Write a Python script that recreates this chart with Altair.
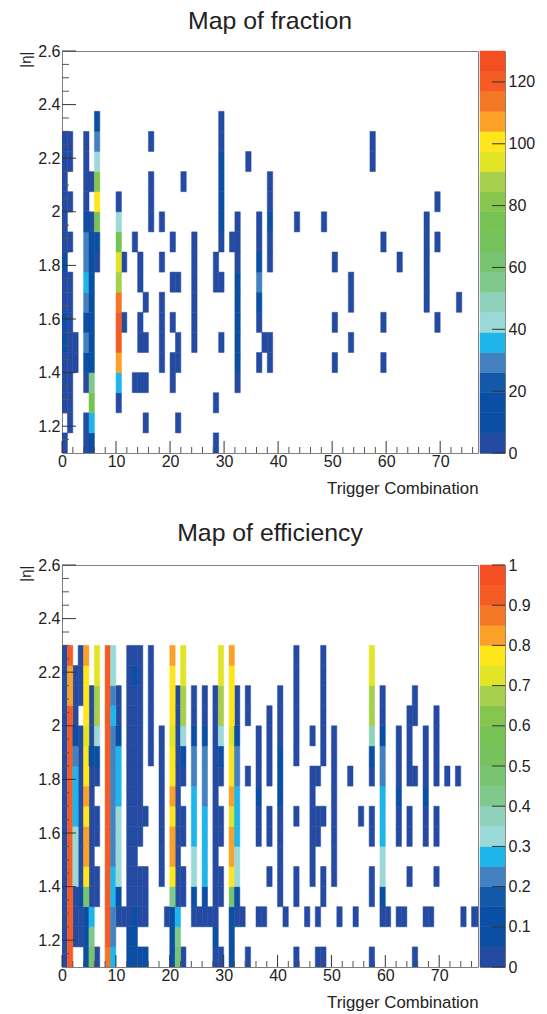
import altair as alt
import pandas as pd

FONT = "Liberation Sans"
PALETTE = ["#254AA2", "#0B4EA2", "#0A4FA3", "#1359A8", "#4481C0", "#1FB5EA", "#9BD8D8",
           "#8FD2BC", "#80C98C", "#78C470", "#76C35E", "#76C255", "#86C64E", "#A6CF4B",
           "#E2E426", "#FFE61A", "#FBA128", "#F47726", "#F55B24", "#F44F22"]
ETA_LOW = 1.1
ETA_STEP = 0.075

# Fraction: cells read at the lowest colour band, per eta row
FRAC_BASE = [
    [0, 4, 28],
    [1, 4, 15, 21],
    [0, 1, 10, 28],
    [0, 1, 4, 13, 14, 15, 20, 32],
    [0, 1, 2, 18, 20, 21, 36, 38, 50, 59],
    [1, 2, 14, 15, 18, 21, 24, 29, 37, 38, 53],
    [1, 11, 14, 18, 20, 24, 36, 50, 59, 69],
    [0, 1, 15, 18, 24, 53, 67, 73],
    [0, 1, 14, 20, 21, 24, 28, 29, 53, 67],
    [6, 11, 14, 18, 24, 28, 32, 38, 50, 62, 67],
    [0, 1, 13, 20, 24, 29, 31, 32, 36, 38, 59, 67, 69],
    [0, 5, 16, 18, 32, 36, 43, 48, 67],
    [0, 1, 4, 10, 16, 38, 69],
    [0, 4, 5, 16, 22, 38],
    [0, 1, 4, 34, 57],
    [0, 1, 4, 16, 29, 57],
    [29],
    [], [], [],
]
# Fraction: cells with a higher reading
FRAC_HOT = [
    {5: 10},
    {5: 35},
    {5: 75},
    {5: 55, 10: 35},
    {4: 14, 5: 10, 10: 107, 32: 10},
    {0: 10, 4: 28, 5: 10, 10: 120, 32: 10},
    {0: 10, 4: 14, 5: 10, 10: 120, 32: 10},
    {4: 28, 5: 10, 10: 113, 32: 10, 36: 10},
    {4: 35, 5: 10, 10: 88, 32: 10, 36: 28},
    {0: 10, 4: 28, 5: 14, 10: 94, 36: 10},
    {4: 28, 5: 10, 6: 10, 10: 75},
    {4: 10, 6: 68, 10: 42, 29: 10, 38: 10},
    {6: 100, 29: 14},
    {6: 82, 29: 14},
    {6: 42, 29: 10},
    {6: 28},
    {6: 10},
    {}, {}, {},
]
# Efficiency: cells read at the lowest colour band, per eta row
EFF_BASE = [
    [0, 6, 22, 28, 29, 34, 43, 47, 48, 57, 65],
    [0, 2, 3],
    [0, 2, 3, 10, 11, 12, 14, 15, 19, 24, 25, 26, 27, 28, 32, 33, 36, 37, 41, 45, 47, 51, 54,
     59, 60, 62, 63, 67, 68, 74, 76, 77],
    [0, 2, 5, 6, 8, 12, 13, 14, 15, 21, 22, 28, 29, 40, 43, 48, 57],
    [0, 3, 5, 6, 12, 13, 14, 15, 18, 21, 22, 28, 29, 38, 40, 43, 46, 48, 50, 57, 64, 69],
    [0, 3, 5, 12, 13, 18, 21, 28, 40, 46, 50],
    [0, 3, 5, 6, 12, 13, 14, 18, 21, 22, 28, 29, 36, 38, 40, 46, 47, 50, 57, 62, 64, 67, 69],
    [0, 3, 5, 6, 12, 13, 14, 15, 18, 21, 22, 28, 29, 36, 38, 40, 43, 46, 47, 48, 50, 55, 57,
     62, 64, 67, 69],
    [0, 3, 5, 12, 13, 14, 18, 21, 28, 46, 50],
    [0, 3, 5, 6, 12, 13, 14, 18, 21, 22, 28, 29, 34, 36, 38, 46, 47, 50, 53, 57, 62, 64, 65,
     67, 69, 71, 73],
    [0, 3, 12, 13, 14, 16, 18, 21, 28, 36, 38, 43, 48, 50, 62, 64, 67, 69],
    [0, 3, 5, 12, 13, 14, 16, 18, 21, 28, 36, 38, 40, 43, 46, 48, 50, 62, 64, 67, 69],
    [0, 2, 5, 10, 12, 13, 14, 16, 21, 24, 26, 28, 32, 34, 38, 40, 43, 48, 59, 64, 65, 69],
    [0, 2, 3, 5, 10, 12, 13, 14, 16, 21, 24, 26, 28, 32, 34, 40, 43, 48, 59, 65],
    [0, 2, 3, 12, 14, 16, 43, 48],
    [0, 3, 12, 13, 14, 16, 43, 48],
    [], [], [], [],
]
# Efficiency: cells with a higher reading
EFF_HOT = [
    {1: .93, 4: .13, 5: .48, 8: .88, 9: .28, 12: .13, 13: .13, 14: .13, 15: .13, 20: .13, 21: .48, 31: .13},
    {1: .93, 4: .13, 5: .43, 8: .93, 9: .23, 12: .13, 13: .13, 20: .13, 21: .43, 28: .13, 31: .13},
    {1: .93, 4: .13, 5: .28, 8: .93, 9: .23, 13: .08, 20: .13, 21: .28, 31: .13},
    {1: .93, 3: .13, 4: .48, 8: .93, 9: .28, 10: .13, 20: .43, 24: .13, 26: .13, 31: .48, 32: .13, 59: .13},
    {1: .93, 2: .33, 4: .78, 8: .93, 9: .28, 10: .33, 20: .78, 24: .33, 26: .28, 31: .78, 32: .33, 59: .33},
    {1: .93, 2: .33, 4: .83, 8: .93, 9: .23, 10: .33, 20: .83, 24: .33, 26: .28, 31: .83, 32: .33, 59: .33},
    {1: .93, 2: .33, 4: .83, 8: .93, 9: .23, 10: .33, 20: .83, 24: .28, 26: .28, 31: .83, 32: .28, 59: .28},
    {1: .93, 2: .28, 4: .78, 8: .93, 9: .23, 10: .33, 20: .78, 24: .28, 26: .28, 31: .73, 32: .28, 59: .28},
    {1: .93, 2: .28, 4: .83, 8: .93, 9: .23, 10: .28, 20: .83, 24: .28, 26: .23, 31: .83, 32: .28, 36: .13,
     40: .13, 59: .28, 62: .13, 67: .13},
    {1: .93, 2: .28, 4: .78, 8: .93, 9: .23, 10: .28, 20: .78, 24: .23, 26: .23, 31: .78, 32: .23, 40: .13, 59: .23},
    {1: .93, 2: .23, 4: .78, 5: .13, 6: .13, 8: .93, 9: .23, 10: .28, 20: .78, 22: .13, 24: .23, 26: .23,
     29: .13, 31: .78, 32: .23, 40: .13, 57: .13, 59: .23},
    {1: .93, 2: .13, 4: .73, 6: .33, 8: .93, 9: .23, 10: .13, 20: .73, 22: .33, 24: .13, 26: .13, 29: .33,
     31: .73, 32: .13, 57: .38, 59: .13},
    {1: .93, 4: .78, 6: .68, 8: .93, 9: .28, 20: .78, 22: .68, 29: .68, 31: .78, 57: .68},
    {1: .83, 4: .78, 6: .68, 8: .93, 9: .23, 20: .78, 22: .68, 29: .68, 31: .78, 57: .68},
    {1: .83, 4: .78, 6: .73, 8: .93, 9: .33, 13: .13, 20: .78, 22: .73, 29: .73, 31: .78, 57: .73},
    {1: .93, 4: .83, 6: .73, 8: .93, 9: .33, 20: .83, 22: .73, 29: .73, 31: .83, 57: .73},
    {}, {}, {}, {},
]

X_MAJOR = [0, 10, 20, 30, 40, 50, 60, 70]
X_MINOR = [c for c in range(2, 78, 2) if c % 10 != 0]
Y_MAJOR = [1.2, 1.4, 1.6, 1.8, 2.0, 2.2, 2.4, 2.6]
Y_MINOR = [1.15, 1.25, 1.3, 1.35, 1.45, 1.5, 1.55, 1.65, 1.7, 1.75, 1.85, 1.9, 1.95, 2.05, 2.1,
           2.15, 2.25, 2.3, 2.35, 2.45, 2.5, 2.55]
FRAC_TICKS = [0, 20, 40, 60, 80, 100, 120]
EFF_TICKS = [0, .1, .2, .3, .4, .5, .6, .7, .8, .9, 1]

W, H, CB = 416, 402, 25
AX = dict(labelFont=FONT, labelFontSize=16, labelColor="#222", titleFont=FONT,
          titleFontWeight="normal", titleColor="#222", ticks=False, domain=False, grid=False)


def cells(base, hot, low):
    out = []
    for r, (cols, extra) in enumerate(zip(base, hot)):
        vals = {c: low for c in cols}
        vals.update(extra)
        for c, v in vals.items():
            out.append(dict(x=c, x2=c + 1, y=ETA_LOW + r * ETA_STEP, y2=ETA_LOW + (r + 1) * ETA_STEP, v=v))
    return pd.DataFrame(out)


def panel(base, hot, low, top, ticks, title, xmax, title_offset, cb_format):
    band = top / len(PALETTE)
    edges = [band * i for i in range(len(PALETTE) + 1)]
    cscale = alt.Scale(type="threshold", domain=edges[1:-1], range=PALETTE)
    color = alt.Color("v:Q", legend=None, scale=cscale)
    stroke = alt.Stroke("v:Q", legend=None, scale=cscale)
    xs = alt.Scale(domain=[0, xmax], nice=False, zero=False)
    ys = alt.Scale(domain=[1.1, 2.6], nice=False, zero=False)
    xax = alt.Axis(values=X_MAJOR, title="Trigger Combination", titleFontSize=16.8, titleAnchor="end",
                   titlePadding=11, labelPadding=0, labelOverlap=False, labelFlush=False, **AX)
    yax = alt.Axis(values=Y_MAJOR, format="~g", title="|η|", titleFontSize=15, titleX=-29, titleY=0,
                   titleAngle=-90, titleAlign="right", labelPadding=2, labelOverlap=False, **AX)
    heat = alt.Chart(cells(base, hot, low)).mark_rect(clip=True, strokeWidth=0.5).encode(
        x=alt.X("x:Q", scale=xs, axis=xax), x2="x2:Q",
        y=alt.Y("y:Q", scale=ys, axis=yax), y2="y2:Q", color=color, stroke=stroke)

    def xt(vals, ln, col):
        return alt.Chart(pd.DataFrame({"t": vals})).mark_rule(color=col, strokeWidth=1).encode(
            x=alt.X("t:Q", scale=xs, axis=xax), y=alt.value(H), y2=alt.value(H - ln))

    def yt(vals, ln, col):
        return alt.Chart(pd.DataFrame({"t": vals})).mark_rule(color=col, strokeWidth=1).encode(
            y=alt.Y("t:Q", scale=ys, axis=yax), x=alt.value(0), x2=alt.value(ln))

    main = alt.layer(heat, xt(X_MAJOR, 12, "#333"), xt(X_MINOR, 6, "#555"),
                     yt(Y_MAJOR, 14, "#333"), yt(Y_MINOR, 7, "#555")).properties(
        width=W, height=H,
        title=alt.TitleParams(title, font=FONT, fontSize=24.8, fontWeight="normal", color="#222",
                              offset=title_offset, anchor="middle"))

    bands = pd.DataFrame({"lo": edges[:-1], "hi": edges[1:], "v": [e + band / 2 for e in edges[:-1]]})
    cs = alt.Scale(domain=[0, top], nice=False, zero=False)
    cax = alt.Axis(values=ticks, orient="right", format=cb_format, title=None, labelPadding=3,
                   labelOverlap=False, **AX)
    cbar = alt.Chart(bands).mark_rect(strokeWidth=0.5).encode(
        x=alt.value(0), x2=alt.value(CB),
        y=alt.Y("lo:Q", scale=cs, axis=cax), y2="hi:Q", color=color, stroke=stroke)
    ctick = alt.Chart(pd.DataFrame({"t": ticks})).mark_rule(color="#333", strokeWidth=1).encode(
        y=alt.Y("t:Q", scale=cs, axis=cax), x=alt.value(CB), x2=alt.value(CB - 13))
    bar = alt.layer(cbar, ctick).properties(width=CB, height=H)
    return alt.hconcat(main, bar, spacing=0).resolve_scale(color="independent", stroke="independent")


top_panel = panel(FRAC_BASE, FRAC_HOT, 3, 130, FRAC_TICKS, "Map of fraction", 77, 9, "d")
bot_panel = panel(EFF_BASE, EFF_HOT, .03, 1, EFF_TICKS, "Map of efficiency", 77.2, 11, "~g")

chart = alt.vconcat(top_panel, bot_panel, spacing=22).properties(
    padding={"left": 9, "top": 0, "right": 0, "bottom": 0}, background="white"
).configure_view(stroke="#808080", strokeWidth=1)

chart.save("out.html", embed_options={"renderer": "svg", "actions": False})
